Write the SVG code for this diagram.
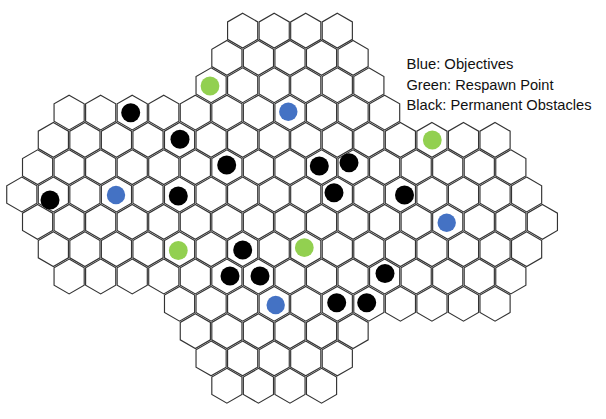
<svg xmlns="http://www.w3.org/2000/svg" xmlns:xlink="http://www.w3.org/1999/xlink" width="606" height="419" viewBox="0 0 606 419">
<style>
.hex{fill:#fff;stroke:#333;stroke-width:1.15}
.b{fill:#4472c4}.g{fill:#92d050}.k{fill:#000}
.t{font-family:"Liberation Sans",Arial,sans-serif;font-size:14.5px;fill:#111}
</style>
<defs>
<polygon id="h" class="hex" points="0,-17.4 15.07,-8.7 15.07,8.7 0,17.4 -15.07,8.7 -15.07,-8.7"/>
</defs>
<rect width="606" height="419" fill="#fff"/>
<g id="board">
<g id="row0" transform="translate(0,30.6)"><use href="#h" x="242.65"/><use href="#h" x="274.2"/><use href="#h" x="305.75"/><use href="#h" x="337.3"/></g>
<g id="row1" transform="translate(0,57.92)"><use href="#h" x="226.88"/><use href="#h" x="258.43"/><use href="#h" x="289.98"/><use href="#h" x="321.53"/><use href="#h" x="353.08"/></g>
<g id="row2" transform="translate(0,85.24)"><use href="#h" x="211.1"/><use href="#h" x="242.65"/><use href="#h" x="274.2"/><use href="#h" x="305.75"/><use href="#h" x="337.3"/><use href="#h" x="368.85"/></g>
<g id="row3" transform="translate(0,112.56)"><use href="#h" x="69.13"/><use href="#h" x="100.68"/><use href="#h" x="132.23"/><use href="#h" x="163.78"/><use href="#h" x="195.33"/><use href="#h" x="226.88"/><use href="#h" x="258.43"/><use href="#h" x="289.98"/><use href="#h" x="321.53"/><use href="#h" x="353.08"/><use href="#h" x="384.63"/></g>
<g id="row4" transform="translate(0,139.88)"><use href="#h" x="53.35"/><use href="#h" x="84.9"/><use href="#h" x="116.45"/><use href="#h" x="148"/><use href="#h" x="179.55"/><use href="#h" x="211.1"/><use href="#h" x="242.65"/><use href="#h" x="274.2"/><use href="#h" x="305.75"/><use href="#h" x="337.3"/><use href="#h" x="368.85"/><use href="#h" x="400.4"/><use href="#h" x="431.95"/><use href="#h" x="463.5"/><use href="#h" x="495.05"/></g>
<g id="row5" transform="translate(0,167.2)"><use href="#h" x="37.58"/><use href="#h" x="69.13"/><use href="#h" x="100.68"/><use href="#h" x="132.23"/><use href="#h" x="163.78"/><use href="#h" x="195.33"/><use href="#h" x="226.88"/><use href="#h" x="258.43"/><use href="#h" x="289.98"/><use href="#h" x="321.53"/><use href="#h" x="353.08"/><use href="#h" x="384.63"/><use href="#h" x="416.18"/><use href="#h" x="447.73"/><use href="#h" x="479.28"/><use href="#h" x="510.83"/></g>
<g id="row6" transform="translate(0,194.52)"><use href="#h" x="21.8"/><use href="#h" x="53.35"/><use href="#h" x="84.9"/><use href="#h" x="116.45"/><use href="#h" x="148"/><use href="#h" x="179.55"/><use href="#h" x="211.1"/><use href="#h" x="242.65"/><use href="#h" x="274.2"/><use href="#h" x="305.75"/><use href="#h" x="337.3"/><use href="#h" x="368.85"/><use href="#h" x="400.4"/><use href="#h" x="431.95"/><use href="#h" x="463.5"/><use href="#h" x="495.05"/><use href="#h" x="526.6"/></g>
<g id="row7" transform="translate(0,221.84)"><use href="#h" x="37.58"/><use href="#h" x="69.13"/><use href="#h" x="100.68"/><use href="#h" x="132.23"/><use href="#h" x="163.78"/><use href="#h" x="195.33"/><use href="#h" x="226.88"/><use href="#h" x="258.43"/><use href="#h" x="289.98"/><use href="#h" x="321.53"/><use href="#h" x="353.08"/><use href="#h" x="384.63"/><use href="#h" x="416.18"/><use href="#h" x="447.73"/><use href="#h" x="479.28"/><use href="#h" x="510.83"/><use href="#h" x="542.38"/></g>
<g id="row8" transform="translate(0,249.16)"><use href="#h" x="53.35"/><use href="#h" x="84.9"/><use href="#h" x="116.45"/><use href="#h" x="148"/><use href="#h" x="179.55"/><use href="#h" x="211.1"/><use href="#h" x="242.65"/><use href="#h" x="274.2"/><use href="#h" x="305.75"/><use href="#h" x="337.3"/><use href="#h" x="368.85"/><use href="#h" x="400.4"/><use href="#h" x="431.95"/><use href="#h" x="463.5"/><use href="#h" x="495.05"/><use href="#h" x="526.6"/></g>
<g id="row9" transform="translate(0,276.48)"><use href="#h" x="69.13"/><use href="#h" x="100.68"/><use href="#h" x="132.23"/><use href="#h" x="163.78"/><use href="#h" x="195.33"/><use href="#h" x="226.88"/><use href="#h" x="258.43"/><use href="#h" x="289.98"/><use href="#h" x="321.53"/><use href="#h" x="353.08"/><use href="#h" x="384.63"/><use href="#h" x="416.18"/><use href="#h" x="447.73"/><use href="#h" x="479.28"/><use href="#h" x="510.83"/></g>
<g id="row10" transform="translate(0,303.8)"><use href="#h" x="179.55"/><use href="#h" x="211.1"/><use href="#h" x="242.65"/><use href="#h" x="274.2"/><use href="#h" x="305.75"/><use href="#h" x="337.3"/><use href="#h" x="368.85"/><use href="#h" x="400.4"/><use href="#h" x="431.95"/><use href="#h" x="463.5"/><use href="#h" x="495.05"/></g>
<g id="row11" transform="translate(0,331.12)"><use href="#h" x="195.33"/><use href="#h" x="226.88"/><use href="#h" x="258.43"/><use href="#h" x="289.98"/><use href="#h" x="321.53"/><use href="#h" x="353.08"/></g>
<g id="row12" transform="translate(0,358.44)"><use href="#h" x="211.1"/><use href="#h" x="242.65"/><use href="#h" x="274.2"/><use href="#h" x="305.75"/><use href="#h" x="337.3"/></g>
<g id="row13" transform="translate(0,385.76)"><use href="#h" x="226.88"/><use href="#h" x="258.43"/><use href="#h" x="289.98"/><use href="#h" x="321.53"/></g>
</g>
<g id="respawn">
<circle class="g" cx="210" cy="86" r="9.4"/>
<circle class="g" cx="432.3" cy="140" r="9.4"/>
<circle class="g" cx="178.3" cy="250.5" r="9.4"/>
<circle class="g" cx="304.3" cy="247.7" r="9.4"/>
</g>
<g id="objectives">
<circle class="b" cx="288.3" cy="111.8" r="9.2"/>
<circle class="b" cx="116" cy="195" r="9.2"/>
<circle class="b" cx="446.7" cy="222.7" r="9.2"/>
<circle class="b" cx="275.7" cy="305" r="9.2"/>
</g>
<g id="obstacles">
<circle class="k" cx="130.7" cy="112.7" r="9.5"/>
<circle class="k" cx="180" cy="139.3" r="9.5"/>
<circle class="k" cx="226.7" cy="165" r="9.5"/>
<circle class="k" cx="319.3" cy="166" r="9.5"/>
<circle class="k" cx="349" cy="162.7" r="9.5"/>
<circle class="k" cx="334" cy="192.7" r="9.5"/>
<circle class="k" cx="404.5" cy="195" r="9.5"/>
<circle class="k" cx="178.3" cy="196" r="9.5"/>
<circle class="k" cx="50" cy="200" r="9.5"/>
<circle class="k" cx="242.7" cy="250" r="9.5"/>
<circle class="k" cx="230" cy="276" r="9.5"/>
<circle class="k" cx="260" cy="276" r="9.5"/>
<circle class="k" cx="385" cy="273.5" r="9.5"/>
<circle class="k" cx="336.7" cy="302.7" r="9.5"/>
<circle class="k" cx="366.7" cy="302.7" r="9.5"/>
</g>
<g id="legend">
<text class="t" x="406.5" y="69.3" textLength="107" lengthAdjust="spacingAndGlyphs">Blue: Objectives</text>
<text class="t" x="406.5" y="89.8" textLength="147" lengthAdjust="spacingAndGlyphs">Green: Respawn Point</text>
<text class="t" x="406.5" y="110.3" textLength="185" lengthAdjust="spacingAndGlyphs">Black: Permanent Obstacles</text>
</g>
</svg>
